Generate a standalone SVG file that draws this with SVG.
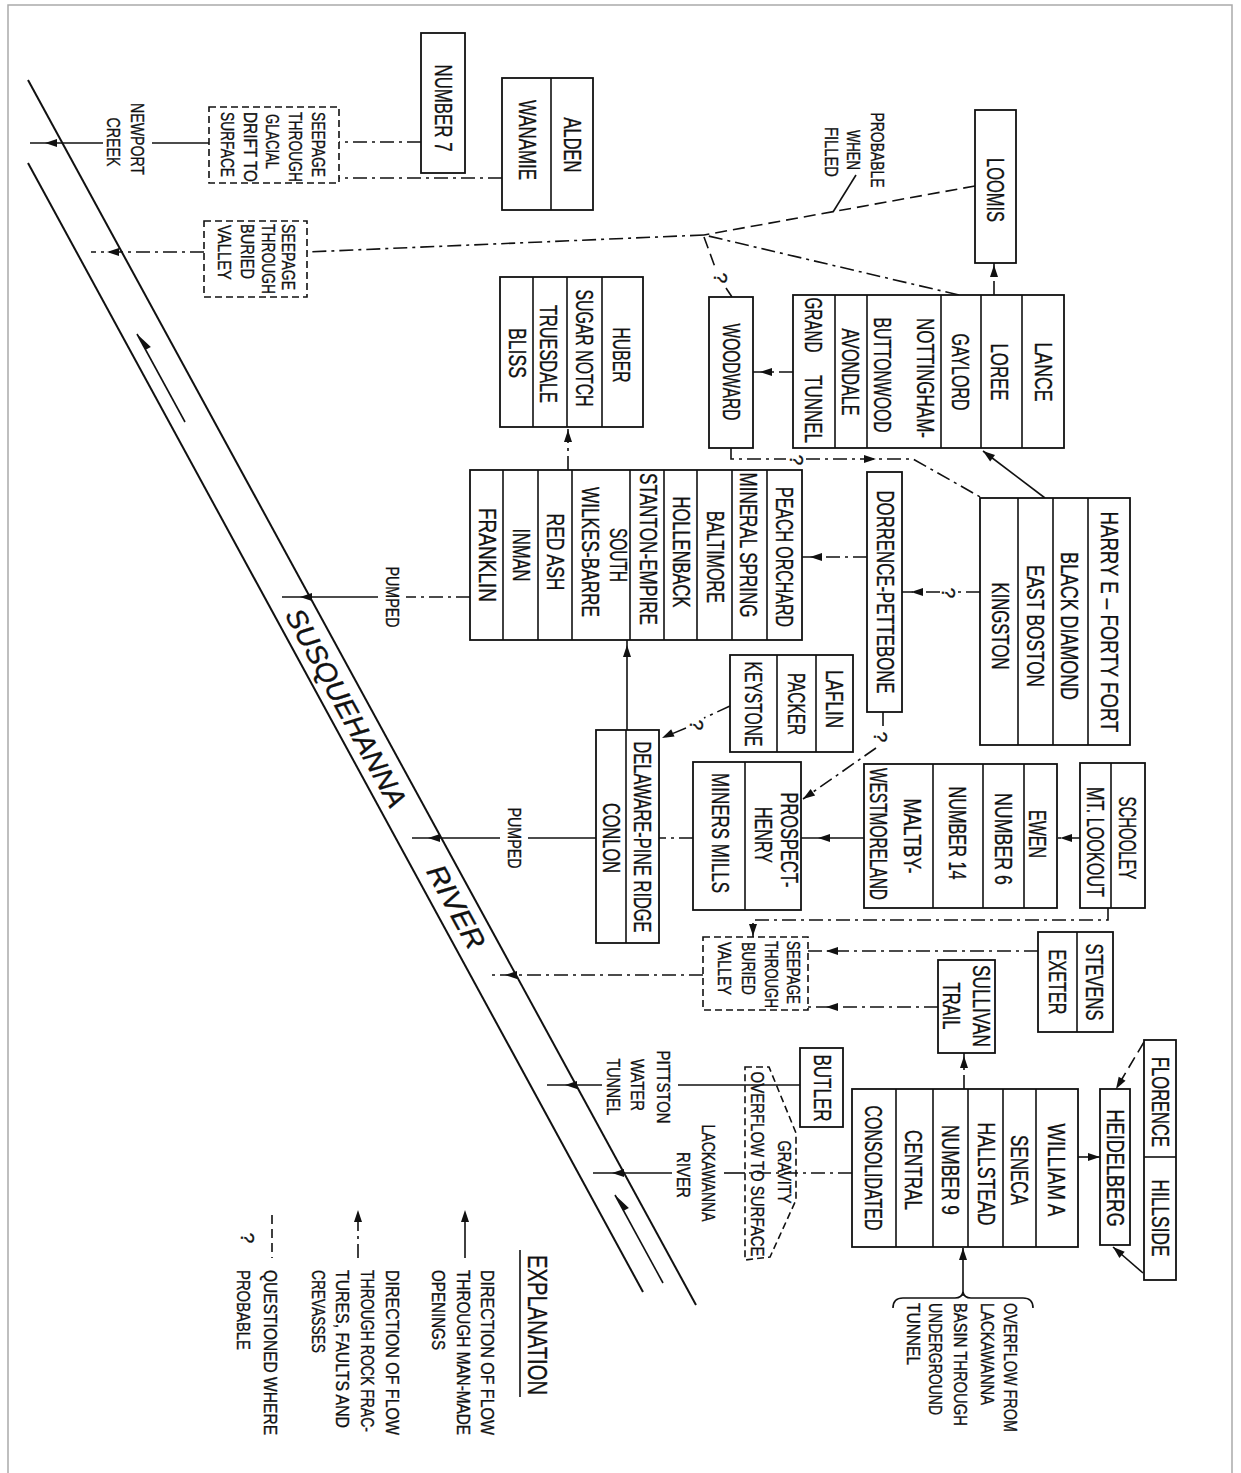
<svg xmlns="http://www.w3.org/2000/svg" width="1241" height="1473" viewBox="0 0 1241 1473">
<defs>
<style>
.bx{fill:#fff;stroke:#111;stroke-width:1.8}
.dv{stroke:#111;stroke-width:1.6}
.db{fill:none;stroke:#111;stroke-width:1.6;stroke-dasharray:7 4}
.s{fill:none;stroke:#111;stroke-width:1.6}
.dd{fill:none;stroke:#111;stroke-width:1.6;stroke-dasharray:14 5 3 5}
.da{fill:none;stroke:#111;stroke-width:1.6;stroke-dasharray:12 6}
.rv{fill:none;stroke:#111;stroke-width:2}
.t{font-family:"Liberation Sans",Arial,sans-serif;font-size:23px;fill:#111;stroke:#111;stroke-width:0.35;text-anchor:middle;dominant-baseline:central}
.m{font-size:19px}
.st{text-anchor:start}
.it{font-style:italic;font-size:28px}
.ah{fill:#111}
</style>
<path id="ah" d="M0,0 L-12,-4 L-12,4 Z"/>
</defs>
<rect width="1241" height="1473" fill="#fff"/>
<path d="M8,1473 V5 H1232 V1473" fill="none" stroke="#aaa" stroke-width="1.5"/>

<g id="river">
<line class="rv" x1="28" y1="80" x2="696" y2="1305"/>
<line class="rv" x1="28" y1="163" x2="643" y2="1292"/>
<line class="s" x1="137" y1="334" x2="185" y2="422"/>
<polygon class="ah" points="137,334 150.9,346.9 145.6,349.8"/>
<line class="s" x1="615" y1="1195" x2="663" y2="1283"/>
<polygon class="ah" points="615,1195 628.9,1207.9 623.6,1210.8"/>
<text class="t it" transform="translate(346,708) rotate(61.4)" textLength="222" lengthAdjust="spacingAndGlyphs">SUSQUEHANNA</text>
<text class="t it" transform="translate(456,907) rotate(61.4)" textLength="92" lengthAdjust="spacingAndGlyphs">RIVER</text>
</g>

<g id="connectors">
<line class="s" x1="209" y1="143" x2="152" y2="143"/>
<line class="s" x1="103" y1="143" x2="30" y2="143"/>
<use href="#ah" class="ah" transform="translate(45,143) rotate(180)"/>
<line class="dd" x1="421" y1="142" x2="339" y2="142"/>
<line class="dd" x1="502" y1="178" x2="339" y2="178"/>
<line class="dd" x1="204" y1="252" x2="91" y2="252"/>
<use href="#ah" class="ah" transform="translate(107,252) rotate(180)"/>
<line class="dd" x1="704" y1="235" x2="307" y2="252"/>
<line class="da" x1="975" y1="186" x2="704" y2="235"/>
<line class="s" x1="856" y1="175" x2="833" y2="212"/>
<line class="dd" x1="959" y1="295" x2="704" y2="235"/>
<line class="da" x1="704" y1="237" x2="715" y2="267"/>
<line class="da" x1="726" y1="288" x2="732" y2="297"/>
<text class="t m" transform="translate(720,278) rotate(90)">?</text>
<line class="dd" x1="994" y1="295" x2="994" y2="263"/>
<use href="#ah" class="ah" transform="translate(994,265) rotate(-90)"/>
<line class="dd" x1="793" y1="372" x2="753" y2="372"/>
<use href="#ah" class="ah" transform="translate(760,372) rotate(180)"/>
<polyline class="dd" points="731,448 731,459 786,459"/>
<text class="t m" transform="translate(796,460) rotate(90)">?</text>
<polyline class="dd" points="806,459 913,459 982,498"/>
<use href="#ah" class="ah" transform="translate(876,459)"/>
<line class="s" x1="1045" y1="498" x2="983" y2="451"/>
<use href="#ah" class="ah" transform="translate(983,451) rotate(-142.8)"/>
<line class="dd" x1="980" y1="592" x2="956" y2="592"/>
<text class="t m" transform="translate(948,593) rotate(90)">?</text>
<line class="dd" x1="940" y1="592" x2="902" y2="592"/>
<use href="#ah" class="ah" transform="translate(911,592) rotate(180)"/>
<line class="dd" x1="867" y1="557" x2="802" y2="557"/>
<use href="#ah" class="ah" transform="translate(810,557) rotate(180)"/>
<line class="dd" x1="568" y1="470" x2="568" y2="427"/>
<use href="#ah" class="ah" transform="translate(568,430) rotate(-90)"/>
<line class="s" x1="627" y1="730" x2="627" y2="640"/>
<use href="#ah" class="ah" transform="translate(627,645) rotate(-90)"/>
<line class="dd" x1="730" y1="706" x2="704" y2="718"/>
<text class="t m" transform="translate(696,725) rotate(90)">?</text>
<line class="dd" x1="686" y1="728" x2="662" y2="738"/>
<use href="#ah" class="ah" transform="translate(662,738) rotate(154.8)"/>
<line class="dd" x1="883" y1="712" x2="883" y2="726"/>
<text class="t m" transform="translate(880,737) rotate(90)">?</text>
<line class="dd" x1="876" y1="748" x2="803" y2="799"/>
<use href="#ah" class="ah" transform="translate(803,799) rotate(145.3)"/>
<line class="dd" x1="1080" y1="838" x2="1057" y2="838"/>
<use href="#ah" class="ah" transform="translate(1060,838) rotate(180)"/>
<line class="s" x1="864" y1="838" x2="801" y2="838"/>
<use href="#ah" class="ah" transform="translate(818,838) rotate(180)"/>
<line class="dd" x1="693" y1="838" x2="659" y2="838"/>
<line class="s" x1="596" y1="838" x2="528" y2="838"/>
<line class="s" x1="500" y1="838" x2="412" y2="838"/>
<use href="#ah" class="ah" transform="translate(428,838) rotate(180)"/>
<line class="dd" x1="470" y1="597" x2="406" y2="597"/>
<line class="s" x1="378" y1="597" x2="282" y2="597"/>
<use href="#ah" class="ah" transform="translate(300,597) rotate(180)"/>
<polyline class="dd" points="1108,908 1108,920 753,920 753,937"/>
<use href="#ah" class="ah" transform="translate(753,936) rotate(90)"/>
<line class="dd" x1="1038" y1="951" x2="808" y2="951"/>
<use href="#ah" class="ah" transform="translate(826,951) rotate(180)"/>
<line class="dd" x1="938" y1="1007" x2="808" y2="1007"/>
<use href="#ah" class="ah" transform="translate(826,1007) rotate(180)"/>
<line class="dd" x1="703" y1="975" x2="490" y2="975"/>
<use href="#ah" class="ah" transform="translate(505,975) rotate(180)"/>
<line class="dd" x1="964" y1="1089" x2="964" y2="1053"/>
<use href="#ah" class="ah" transform="translate(964,1056) rotate(-90)"/>
<line class="s" x1="800" y1="1085" x2="678" y2="1085"/>
<line class="s" x1="602" y1="1085" x2="547" y2="1085"/>
<use href="#ah" class="ah" transform="translate(565,1085) rotate(180)"/>
<line class="dd" x1="852" y1="1173" x2="745" y2="1173"/>
<line class="s" x1="745" y1="1173" x2="724" y2="1173"/>
<line class="s" x1="672" y1="1173" x2="593" y2="1173"/>
<use href="#ah" class="ah" transform="translate(612,1173) rotate(180)"/>
<line class="s" x1="1078" y1="1157" x2="1100" y2="1157"/>
<use href="#ah" class="ah" transform="translate(1100,1157)"/>
<line class="da" x1="1144" y1="1042" x2="1116" y2="1089"/>
<use href="#ah" class="ah" transform="translate(1116,1089) rotate(120.8)"/>
<line class="s" x1="1143" y1="1273" x2="1113" y2="1247"/>
<use href="#ah" class="ah" transform="translate(1113,1247) rotate(-139)"/>
<line class="s" x1="963" y1="1296" x2="963" y2="1248"/>
<use href="#ah" class="ah" transform="translate(963,1248) rotate(-90)"/>
<path class="s" d="M893,1308 Q893,1298 903,1298 L955,1298 Q962,1298 963,1292 Q964,1298 971,1298 L1023,1298 Q1033,1298 1033,1308"/>
</g>

<g id="n-number7">
<rect class="bx" x="421" y="33" width="44" height="140"/>
<text class="t" transform="translate(443,108) rotate(90)" textLength="87" lengthAdjust="spacingAndGlyphs">NUMBER 7</text>
</g>
<g id="n-alden">
<rect class="bx" x="502" y="78" width="91" height="132"/>
<line class="dv" x1="551" y1="78" x2="551" y2="210"/>
<text class="t" transform="translate(572,145) rotate(90)" textLength="55" lengthAdjust="spacingAndGlyphs">ALDEN</text>
<text class="t" transform="translate(527,140) rotate(90)" textLength="80" lengthAdjust="spacingAndGlyphs">WANAMIE</text>
</g>
<g id="n-seepage-glacial">
<rect class="db" x="209" y="107" width="130" height="76"/>
<text class="t m st" transform="translate(318,112) rotate(90)" textLength="65" lengthAdjust="spacingAndGlyphs">SEEPAGE</text>
<text class="t m st" transform="translate(295,112) rotate(90)" textLength="70" lengthAdjust="spacingAndGlyphs">THROUGH</text>
<text class="t m st" transform="translate(272,114) rotate(90)" textLength="55" lengthAdjust="spacingAndGlyphs">GLACIAL</text>
<text class="t m st" transform="translate(250,112) rotate(90)" textLength="70" lengthAdjust="spacingAndGlyphs">DRIFT TO</text>
<text class="t m st" transform="translate(227,112) rotate(90)" textLength="65" lengthAdjust="spacingAndGlyphs">SURFACE</text>
</g>
<g id="n-seepage-valley-1">
<rect class="db" x="204" y="221" width="103" height="76"/>
<text class="t m st" transform="translate(288,224) rotate(90)" textLength="66" lengthAdjust="spacingAndGlyphs">SEEPAGE</text>
<text class="t m st" transform="translate(268,224) rotate(90)" textLength="70" lengthAdjust="spacingAndGlyphs">THROUGH</text>
<text class="t m st" transform="translate(247,224) rotate(90)" textLength="55" lengthAdjust="spacingAndGlyphs">BURIED</text>
<text class="t m st" transform="translate(224,225) rotate(90)" textLength="55" lengthAdjust="spacingAndGlyphs">VALLEY</text>
</g>
<g id="n-loomis">
<rect class="bx" x="975" y="110" width="41" height="153"/>
<text class="t" transform="translate(995,190) rotate(90)" textLength="64" lengthAdjust="spacingAndGlyphs">LOOMIS</text>
</g>
<g id="n-lance">
<rect class="bx" x="793" y="295" width="271" height="153"/>
<line class="dv" x1="835" y1="295" x2="835" y2="448"/>
<line class="dv" x1="867" y1="295" x2="867" y2="448"/>
<line class="dv" x1="941" y1="295" x2="941" y2="448"/>
<line class="dv" x1="981" y1="295" x2="981" y2="448"/>
<line class="dv" x1="1022" y1="295" x2="1022" y2="448"/>
<text class="t" transform="translate(813,325) rotate(90)" textLength="55" lengthAdjust="spacingAndGlyphs">GRAND</text>
<text class="t" transform="translate(813,409) rotate(90)" textLength="68" lengthAdjust="spacingAndGlyphs">TUNNEL</text>
<text class="t" transform="translate(850,372) rotate(90)" textLength="87" lengthAdjust="spacingAndGlyphs">AVONDALE</text>
<text class="t" transform="translate(882,375) rotate(90)" textLength="115" lengthAdjust="spacingAndGlyphs">BUTTONWOOD</text>
<text class="t" transform="translate(925,378) rotate(90)" textLength="120" lengthAdjust="spacingAndGlyphs">NOTTINGHAM-</text>
<text class="t" transform="translate(960,372) rotate(90)" textLength="77" lengthAdjust="spacingAndGlyphs">GAYLORD</text>
<text class="t" transform="translate(999,372) rotate(90)" textLength="57" lengthAdjust="spacingAndGlyphs">LOREE</text>
<text class="t" transform="translate(1043,372) rotate(90)" textLength="59" lengthAdjust="spacingAndGlyphs">LANCE</text>
</g>
<g id="n-woodward">
<rect class="bx" x="709" y="297" width="44" height="151"/>
<text class="t" transform="translate(731,372) rotate(90)" textLength="97" lengthAdjust="spacingAndGlyphs">WOODWARD</text>
</g>
<g id="n-huber">
<rect class="bx" x="500" y="277" width="143" height="150"/>
<line class="dv" x1="533" y1="277" x2="533" y2="427"/>
<line class="dv" x1="567" y1="277" x2="567" y2="427"/>
<line class="dv" x1="602" y1="277" x2="602" y2="427"/>
<text class="t" transform="translate(621,355) rotate(90)" textLength="55" lengthAdjust="spacingAndGlyphs">HUBER</text>
<text class="t" transform="translate(584,348) rotate(90)" textLength="117" lengthAdjust="spacingAndGlyphs">SUGAR NOTCH</text>
<text class="t" transform="translate(548,354) rotate(90)" textLength="98" lengthAdjust="spacingAndGlyphs">TRUESDALE</text>
<text class="t" transform="translate(517,353) rotate(90)" textLength="50" lengthAdjust="spacingAndGlyphs">BLISS</text>
</g>
<g id="n-peach">
<rect class="bx" x="470" y="470" width="332" height="170"/>
<line class="dv" x1="503" y1="470" x2="503" y2="640"/>
<line class="dv" x1="538" y1="470" x2="538" y2="640"/>
<line class="dv" x1="572" y1="470" x2="572" y2="640"/>
<line class="dv" x1="630" y1="470" x2="630" y2="640"/>
<line class="dv" x1="664" y1="470" x2="664" y2="640"/>
<line class="dv" x1="697" y1="470" x2="697" y2="640"/>
<line class="dv" x1="732" y1="470" x2="732" y2="640"/>
<line class="dv" x1="767" y1="470" x2="767" y2="640"/>
<text class="t" transform="translate(487,555) rotate(90)" textLength="94" lengthAdjust="spacingAndGlyphs">FRANKLIN</text>
<text class="t" transform="translate(521,555) rotate(90)" textLength="53" lengthAdjust="spacingAndGlyphs">INMAN</text>
<text class="t" transform="translate(555,552) rotate(90)" textLength="77" lengthAdjust="spacingAndGlyphs">RED ASH</text>
<text class="t" transform="translate(618,555) rotate(90)" textLength="54" lengthAdjust="spacingAndGlyphs">SOUTH</text>
<text class="t" transform="translate(590,552) rotate(90)" textLength="130" lengthAdjust="spacingAndGlyphs">WILKES-BARRE</text>
<text class="t" transform="translate(648,549) rotate(90)" textLength="152" lengthAdjust="spacingAndGlyphs">STANTON-EMPIRE</text>
<text class="t" transform="translate(681,552) rotate(90)" textLength="111" lengthAdjust="spacingAndGlyphs">HOLLENBACK</text>
<text class="t" transform="translate(715,557) rotate(90)" textLength="92" lengthAdjust="spacingAndGlyphs">BALTIMORE</text>
<text class="t" transform="translate(748,545) rotate(90)" textLength="145" lengthAdjust="spacingAndGlyphs">MINERAL SPRING</text>
<text class="t" transform="translate(784,557) rotate(90)" textLength="140" lengthAdjust="spacingAndGlyphs">PEACH ORCHARD</text>
</g>
<g id="n-dorrence">
<rect class="bx" x="867" y="472" width="35" height="240"/>
<text class="t" transform="translate(885,592) rotate(90)" textLength="203" lengthAdjust="spacingAndGlyphs">DORRENCE-PETTEBONE</text>
</g>
<g id="n-harry">
<rect class="bx" x="980" y="498" width="150" height="247"/>
<line class="dv" x1="1018" y1="498" x2="1018" y2="745"/>
<line class="dv" x1="1053" y1="498" x2="1053" y2="745"/>
<line class="dv" x1="1088" y1="498" x2="1088" y2="745"/>
<text class="t" transform="translate(1109,622) rotate(90)" textLength="221" lengthAdjust="spacingAndGlyphs">HARRY E – FORTY FORT</text>
<text class="t" transform="translate(1069,626) rotate(90)" textLength="148" lengthAdjust="spacingAndGlyphs">BLACK DIAMOND</text>
<text class="t" transform="translate(1035,626) rotate(90)" textLength="122" lengthAdjust="spacingAndGlyphs">EAST BOSTON</text>
<text class="t" transform="translate(1000,626) rotate(90)" textLength="87" lengthAdjust="spacingAndGlyphs">KINGSTON</text>
</g>
<g id="n-laflin">
<rect class="bx" x="730" y="655" width="123" height="97"/>
<line class="dv" x1="777" y1="655" x2="777" y2="752"/>
<line class="dv" x1="816" y1="655" x2="816" y2="752"/>
<text class="t" transform="translate(834,699) rotate(90)" textLength="58" lengthAdjust="spacingAndGlyphs">LAFLIN</text>
<text class="t" transform="translate(796,704) rotate(90)" textLength="62" lengthAdjust="spacingAndGlyphs">PACKER</text>
<text class="t" transform="translate(753,704) rotate(90)" textLength="85" lengthAdjust="spacingAndGlyphs">KEYSTONE</text>
</g>
<g id="n-delaware">
<rect class="bx" x="596" y="730" width="63" height="213"/>
<line class="dv" x1="626" y1="730" x2="626" y2="943"/>
<text class="t" transform="translate(642,837) rotate(90)" textLength="191" lengthAdjust="spacingAndGlyphs">DELAWARE-PINE RIDGE</text>
<text class="t" transform="translate(611,838) rotate(90)" textLength="70" lengthAdjust="spacingAndGlyphs">CONLON</text>
</g>
<g id="n-prospect">
<rect class="bx" x="693" y="762" width="108" height="148"/>
<line class="dv" x1="745" y1="762" x2="745" y2="910"/>
<text class="t" transform="translate(789,840) rotate(90)" textLength="95" lengthAdjust="spacingAndGlyphs">PROSPECT-</text>
<text class="t" transform="translate(763,835) rotate(90)" textLength="56" lengthAdjust="spacingAndGlyphs">HENRY</text>
<text class="t" transform="translate(720,833) rotate(90)" textLength="120" lengthAdjust="spacingAndGlyphs">MINERS MILLS</text>
</g>
<g id="n-maltby">
<rect class="bx" x="864" y="764" width="193" height="144"/>
<line class="dv" x1="933" y1="764" x2="933" y2="908"/>
<line class="dv" x1="983" y1="764" x2="983" y2="908"/>
<line class="dv" x1="1024" y1="764" x2="1024" y2="908"/>
<text class="t" transform="translate(912,836) rotate(90)" textLength="75" lengthAdjust="spacingAndGlyphs">MALTBY-</text>
<text class="t" transform="translate(878,834) rotate(90)" textLength="132" lengthAdjust="spacingAndGlyphs">WESTMORELAND</text>
<text class="t" transform="translate(957,833) rotate(90)" textLength="93" lengthAdjust="spacingAndGlyphs">NUMBER 14</text>
<text class="t" transform="translate(1003,839) rotate(90)" textLength="92" lengthAdjust="spacingAndGlyphs">NUMBER 6</text>
<text class="t" transform="translate(1037,834) rotate(90)" textLength="48" lengthAdjust="spacingAndGlyphs">EWEN</text>
</g>
<g id="n-schooley">
<rect class="bx" x="1080" y="763" width="65" height="145"/>
<line class="dv" x1="1111" y1="763" x2="1111" y2="908"/>
<text class="t" transform="translate(1095,842) rotate(90)" textLength="110" lengthAdjust="spacingAndGlyphs">MT. LOOKOUT</text>
<text class="t" transform="translate(1127,838) rotate(90)" textLength="83" lengthAdjust="spacingAndGlyphs">SCHOOLEY</text>
</g>
<g id="n-seepage-valley-2">
<rect class="db" x="703" y="937" width="105" height="73"/>
<text class="t m st" transform="translate(793,941) rotate(90)" textLength="63" lengthAdjust="spacingAndGlyphs">SEEPAGE</text>
<text class="t m st" transform="translate(771,941) rotate(90)" textLength="67" lengthAdjust="spacingAndGlyphs">THROUGH</text>
<text class="t m st" transform="translate(748,942) rotate(90)" textLength="53" lengthAdjust="spacingAndGlyphs">BURIED</text>
<text class="t m st" transform="translate(724,942) rotate(90)" textLength="53" lengthAdjust="spacingAndGlyphs">VALLEY</text>
</g>
<g id="n-stevens">
<rect class="bx" x="1038" y="932" width="75" height="100"/>
<line class="dv" x1="1077" y1="932" x2="1077" y2="1032"/>
<text class="t" transform="translate(1094,982) rotate(90)" textLength="77" lengthAdjust="spacingAndGlyphs">STEVENS</text>
<text class="t" transform="translate(1057,982) rotate(90)" textLength="65" lengthAdjust="spacingAndGlyphs">EXETER</text>
</g>
<g id="n-sullivan">
<rect class="bx" x="938" y="960" width="57" height="93"/>
<text class="t" transform="translate(981,1006) rotate(90)" textLength="82" lengthAdjust="spacingAndGlyphs">SULLIVAN</text>
<text class="t" transform="translate(951,1006) rotate(90)" textLength="47" lengthAdjust="spacingAndGlyphs">TRAIL</text>
</g>
<g id="n-butler">
<rect class="bx" x="800" y="1048" width="43" height="79"/>
<text class="t" transform="translate(822,1088) rotate(90)" textLength="67" lengthAdjust="spacingAndGlyphs">BUTLER</text>
</g>
<g id="n-gravity">
<polygon class="db" points="745,1067 769,1067 796,1133 796,1200 770,1257 745,1260"/>
<text class="t m" transform="translate(757,1164) rotate(90)" textLength="185" lengthAdjust="spacingAndGlyphs">OVERFLOW TO SURFACE</text>
<text class="t m" transform="translate(784,1172) rotate(90)" textLength="63" lengthAdjust="spacingAndGlyphs">GRAVITY</text>
</g>
<g id="n-consolidated">
<rect class="bx" x="852" y="1089" width="226" height="158"/>
<line class="dv" x1="896" y1="1089" x2="896" y2="1247"/>
<line class="dv" x1="933" y1="1089" x2="933" y2="1247"/>
<line class="dv" x1="968" y1="1089" x2="968" y2="1247"/>
<line class="dv" x1="1003" y1="1089" x2="1003" y2="1247"/>
<line class="dv" x1="1036" y1="1089" x2="1036" y2="1247"/>
<text class="t" transform="translate(873,1168) rotate(90)" textLength="125" lengthAdjust="spacingAndGlyphs">CONSOLIDATED</text>
<text class="t" transform="translate(913,1170) rotate(90)" textLength="80" lengthAdjust="spacingAndGlyphs">CENTRAL</text>
<text class="t" transform="translate(950,1170) rotate(90)" textLength="90" lengthAdjust="spacingAndGlyphs">NUMBER 9</text>
<text class="t" transform="translate(986,1174) rotate(90)" textLength="103" lengthAdjust="spacingAndGlyphs">HALLSTEAD</text>
<text class="t" transform="translate(1019,1170) rotate(90)" textLength="70" lengthAdjust="spacingAndGlyphs">SENECA</text>
<text class="t" transform="translate(1056,1170) rotate(90)" textLength="93" lengthAdjust="spacingAndGlyphs">WILLIAM A</text>
</g>
<g id="n-heidelberg">
<rect class="bx" x="1100" y="1089" width="30" height="156"/>
<text class="t" transform="translate(1115,1168) rotate(90)" textLength="117" lengthAdjust="spacingAndGlyphs">HEIDELBERG</text>
</g>
<g id="n-florence">
<rect class="bx" x="1144" y="1040" width="32" height="240"/>
<line class="dv" x1="1144" y1="1157" x2="1176" y2="1157"/>
<text class="t" transform="translate(1160,1102) rotate(90)" textLength="90" lengthAdjust="spacingAndGlyphs">FLORENCE</text>
<text class="t" transform="translate(1160,1218) rotate(90)" textLength="77" lengthAdjust="spacingAndGlyphs">HILLSIDE</text>
</g>

<g id="labels">
<text class="t m" transform="translate(137,139) rotate(90)" textLength="72" lengthAdjust="spacingAndGlyphs">NEWPORT</text>
<text class="t m" transform="translate(113,142) rotate(90)" textLength="49" lengthAdjust="spacingAndGlyphs">CREEK</text>
<text class="t m" transform="translate(877,150) rotate(90)" textLength="75" lengthAdjust="spacingAndGlyphs">PROBABLE</text>
<text class="t m" transform="translate(853,150) rotate(90)" textLength="40" lengthAdjust="spacingAndGlyphs">WHEN</text>
<text class="t m" transform="translate(831,152) rotate(90)" textLength="50" lengthAdjust="spacingAndGlyphs">FILLED</text>
<text class="t m" transform="translate(392,597) rotate(90)" textLength="61" lengthAdjust="spacingAndGlyphs">PUMPED</text>
<text class="t m" transform="translate(514,838) rotate(90)" textLength="61" lengthAdjust="spacingAndGlyphs">PUMPED</text>
<text class="t m" transform="translate(663,1087) rotate(90)" textLength="73" lengthAdjust="spacingAndGlyphs">PITTSTON</text>
<text class="t m" transform="translate(637,1085) rotate(90)" textLength="52" lengthAdjust="spacingAndGlyphs">WATER</text>
<text class="t m" transform="translate(613,1087) rotate(90)" textLength="57" lengthAdjust="spacingAndGlyphs">TUNNEL</text>
<text class="t m" transform="translate(708,1173) rotate(90)" textLength="97" lengthAdjust="spacingAndGlyphs">LACKAWANNA</text>
<text class="t m" transform="translate(683,1175) rotate(90)" textLength="46" lengthAdjust="spacingAndGlyphs">RIVER</text>
<text class="t m st" transform="translate(1010,1303) rotate(90)" textLength="129" lengthAdjust="spacingAndGlyphs">OVERFLOW FROM</text>
<text class="t m st" transform="translate(987,1303) rotate(90)" textLength="102" lengthAdjust="spacingAndGlyphs">LACKAWANNA</text>
<text class="t m st" transform="translate(960,1303) rotate(90)" textLength="123" lengthAdjust="spacingAndGlyphs">BASIN THROUGH</text>
<text class="t m st" transform="translate(935,1303) rotate(90)" textLength="112" lengthAdjust="spacingAndGlyphs">UNDERGROUND</text>
<text class="t m st" transform="translate(913,1303) rotate(90)" textLength="62" lengthAdjust="spacingAndGlyphs">TUNNEL</text>
</g>

<g id="legend">
<text class="t" style="font-size:27px" transform="translate(537,1325) rotate(90)" textLength="140" lengthAdjust="spacingAndGlyphs">EXPLANATION</text>
<line class="s" x1="520" y1="1250" x2="520" y2="1397"/>
<line class="s" x1="465" y1="1258" x2="465" y2="1214"/>
<use href="#ah" class="ah" transform="translate(465,1210) rotate(-90)"/>
<text class="t m st" transform="translate(487,1270) rotate(90)" textLength="165" lengthAdjust="spacingAndGlyphs">DIRECTION OF FLOW</text>
<text class="t m st" transform="translate(463,1270) rotate(90)" textLength="165" lengthAdjust="spacingAndGlyphs">THROUGH MAN-MADE</text>
<text class="t m st" transform="translate(438,1270) rotate(90)" textLength="80" lengthAdjust="spacingAndGlyphs">OPENINGS</text>
<line class="dd" x1="358" y1="1258" x2="358" y2="1214"/>
<use href="#ah" class="ah" transform="translate(358,1210) rotate(-90)"/>
<text class="t m st" transform="translate(392,1270) rotate(90)" textLength="165" lengthAdjust="spacingAndGlyphs">DIRECTION OF FLOW</text>
<text class="t m st" transform="translate(367,1270) rotate(90)" textLength="162" lengthAdjust="spacingAndGlyphs">THROUGH ROCK FRAC-</text>
<text class="t m st" transform="translate(342,1270) rotate(90)" textLength="158" lengthAdjust="spacingAndGlyphs">TURES, FAULTS AND</text>
<text class="t m st" transform="translate(318,1270) rotate(90)" textLength="83" lengthAdjust="spacingAndGlyphs">CREVASSES</text>
<line class="da" x1="272" y1="1215" x2="272" y2="1258" style="stroke-dasharray:9 5"/>
<text class="t m" transform="translate(247,1238) rotate(90)">?</text>
<text class="t m st" transform="translate(270,1270) rotate(90)" textLength="165" lengthAdjust="spacingAndGlyphs">QUESTIONED WHERE</text>
<text class="t m st" transform="translate(243,1270) rotate(90)" textLength="80" lengthAdjust="spacingAndGlyphs">PROBABLE</text>
</g>
</svg>
